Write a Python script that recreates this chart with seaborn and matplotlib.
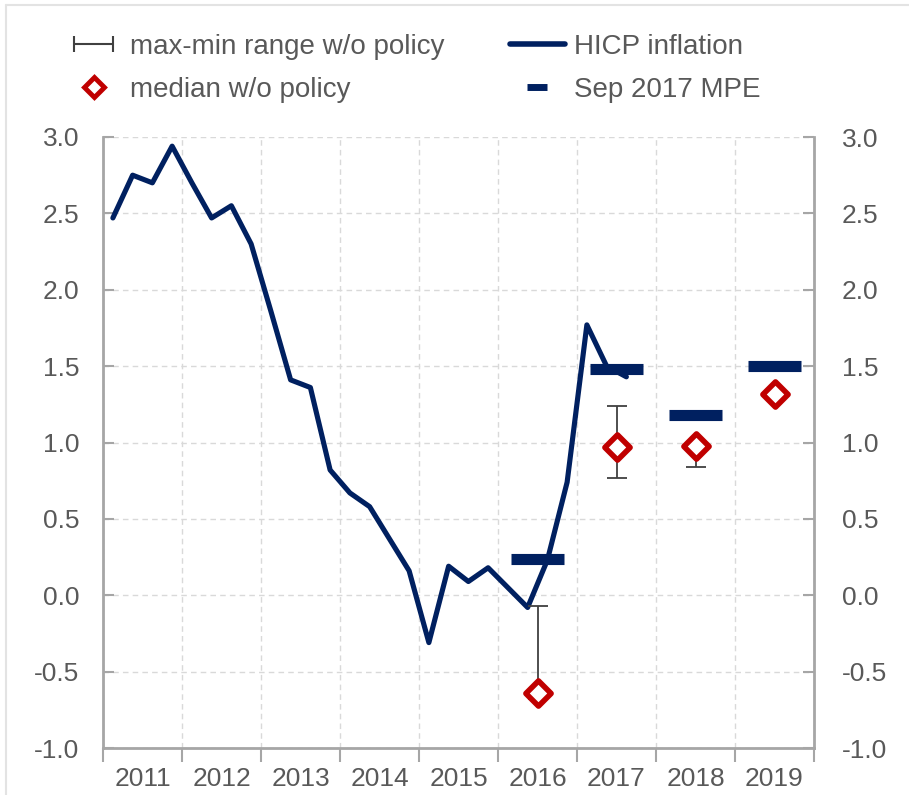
import matplotlib
matplotlib.use("Agg")
import matplotlib.pyplot as plt
import seaborn as sns
import pandas as pd
import numpy as np
from matplotlib.lines import Line2D
from matplotlib.legend_handler import HandlerLine2D

# ---------------- data ----------------
quarters = [f"{y}Q{q}" for y in range(2011, 2018) for q in range(1, 5)][:27]
hicp = [2.47, 2.75, 2.70, 2.94, 2.70, 2.47, 2.55, 2.30,
        1.86, 1.41, 1.36, 0.82, 0.67, 0.58, 0.37, 0.16,
        -0.31, 0.19, 0.09, 0.18, 0.05, -0.08, 0.23, 0.74,
        1.77, 1.50, 1.43]
proj_years = [2016, 2017, 2018, 2019]
mpe = [0.24, 1.48, 1.18, 1.50]
median_wo = [-0.64, 0.97, 0.98, 1.32]
range_max = [-0.07, 1.24, 1.00, 1.34]
range_min = [-0.68, 0.77, 0.84, 1.30]
year_labels = [str(y) for y in range(2011, 2020)]
y_ticks = [-1.0, -0.5, 0.0, 0.5, 1.0, 1.5, 2.0, 2.5, 3.0]

legend_labels = ["max-min range w/o policy", "median w/o policy",
                 "HICP inflation", "Sep 2017 MPE"]

# ---------------- style ----------------
NAVY = "#002060"
RED = "#c00000"
TXT = "#595959"
SPINE = "#a6a6a6"
GRID = "#d9d9d9"
FS = 19
LFS = 20

sns.set_theme(style="white")
plt.rcParams['font.family'] = ['Liberation Sans', 'DejaVu Sans']

fig = plt.figure(figsize=(9.09, 7.95), dpi=100)
ax = fig.add_axes([103/909, 47/795, 711/909, 611/795])

df = pd.DataFrame({
    "x": [int(q[:4]) + (int(q[-1]) - 0.5) / 4 for q in quarters],
    "hicp": hicp,
})
proj = pd.DataFrame({
    "x": [y + 0.5 for y in proj_years],
    "mpe": mpe,
    "median": median_wo,
    "lo": range_min,
    "hi": range_max,
})

sns.lineplot(data=df, x="x", y="hicp", color=NAVY, linewidth=3.7, ax=ax,
             zorder=3, legend=False)

ax.hlines(proj["mpe"], proj["x"] - 0.335, proj["x"] + 0.335, color=NAVY,
          linewidth=8, zorder=4, capstyle="butt")

ax.errorbar(proj["x"], proj["median"],
            yerr=[proj["median"] - proj["lo"], proj["hi"] - proj["median"]],
            fmt="none", ecolor="#404040", elinewidth=1.3, capsize=7,
            capthick=1.3, zorder=5)

sns.scatterplot(data=proj, x="x", y="median", marker="D", s=165,
                facecolor="white", edgecolor=RED, linewidth=4, ax=ax,
                zorder=6, legend=False)

# ---------------- axes ----------------
ax.set_xlim(2011, 2020)
ax.set_ylim(-1, 3)
ax.set_xlabel("")
ax.set_ylabel("")

ax.set_xticks(np.arange(2011, 2021))
ax.set_xticklabels([])
ax.set_xticks([y + 0.5 for y in range(2011, 2020)], minor=True)
ax.set_xticklabels(year_labels, minor=True)
ax.set_yticks(y_ticks)
ax.set_yticklabels([f"{v:.1f}" for v in y_ticks])

ax.grid(True, which="major", linestyle=(0, (4, 3)), color=GRID, linewidth=1)
ax.set_axisbelow(True)

for s in ["left", "right", "bottom"]:
    ax.spines[s].set_visible(True)
    ax.spines[s].set_color(SPINE)
    ax.spines[s].set_linewidth(2)
ax.spines["top"].set_visible(False)

ax.tick_params(axis="x", which="major", direction="out", length=10, width=1.5,
               color=SPINE, bottom=True)
ax.tick_params(axis="x", which="minor", length=0, pad=14, labelsize=FS,
               labelcolor=TXT, bottom=True)
ax.tick_params(axis="y", direction="in", length=8, width=1.5, color=SPINE,
               left=True, right=False, pad=17, labelsize=FS, labelcolor=TXT)

ax2 = ax.twinx()
ax2.set_ylim(-1, 3)
ax2.set_yticks(y_ticks)
ax2.set_yticklabels([f"{v:.1f}" for v in y_ticks])
for s in ax2.spines.values():
    s.set_visible(False)
ax2.tick_params(axis="y", direction="in", length=8, width=1.5, color=SPINE,
                right=True, left=False, pad=20, labelsize=FS, labelcolor=TXT)
ax2.grid(False)

# ---------------- legend ----------------
h_range = Line2D([], [], color="#404040", lw=1.5, marker="|", markersize=12,
                 mew=1.5)
h_med = Line2D([], [], ls="none", marker="D", ms=10, mfc="white", mec=RED,
               mew=3.5)
h_hicp = Line2D([], [], color=NAVY, lw=4)
h_mpe = Line2D([], [], ls="none", marker="_", ms=14, mew=5, color=NAVY)
fig.legend(handles=[h_range, h_med, h_hicp, h_mpe], labels=legend_labels,
           ncol=2, loc="upper left", bbox_to_anchor=(66/909, 1 - 34/795),
           frameon=False, fontsize=LFS, handlelength=2.0, handletextpad=0.3,
           columnspacing=2.35, labelspacing=0.6, borderpad=0,
           borderaxespad=0, labelcolor=TXT,
           handler_map={h_range: HandlerLine2D(numpoints=2)})

# faint outer border (top and left)
fig.add_artist(Line2D([6/909, 6/909], [0, 1 - 5/795], transform=fig.transFigure,
                      color="#e3e3e3", lw=1.5))
fig.add_artist(Line2D([6/909, 1], [1 - 5/795, 1 - 5/795],
                      transform=fig.transFigure, color="#e3e3e3", lw=1.5))

fig.savefig("out.png", dpi=100)
